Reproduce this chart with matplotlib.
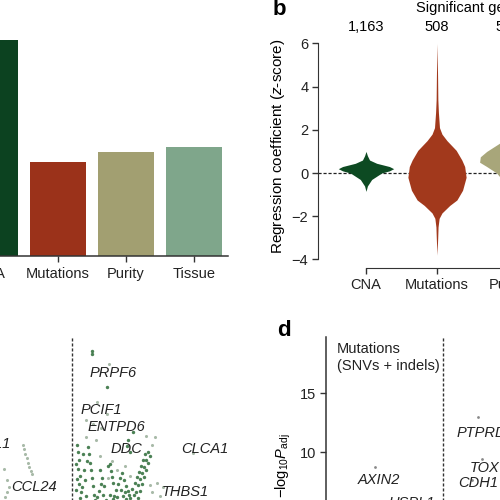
import numpy as np
import matplotlib
matplotlib.use('Agg')
import matplotlib.pyplot as plt

plt.rcParams['font.family'] = ['Liberation Sans', 'DejaVu Sans']
plt.rcParams['mathtext.fontset'] = 'custom'
plt.rcParams['mathtext.rm'] = 'Liberation Sans'
plt.rcParams['mathtext.it'] = 'Liberation Sans:italic'
plt.rcParams['font.size'] = 10.5
plt.rcParams['axes.edgecolor'] = '#333333'
plt.rcParams['xtick.color'] = '#333333'
plt.rcParams['ytick.color'] = '#333333'
plt.rcParams['xtick.labelcolor'] = '#222222'
plt.rcParams['ytick.labelcolor'] = '#222222'

# ---- panel a: bars
bar_labels = ['CNA', 'Mutations', 'Purity', 'Tissue']
bar_values = [0.405, 0.176, 0.195, 0.204]
bar_colors = ['#0c4220', '#9b321a', '#a29f71', '#7fa68b']

# ---- panel b: violins (profile = level, half width)
violin_labels = ['CNA', 'Mutations', 'Purity', 'Tissue']
violin_counts = ['1,163', '508', '536']
violin_colors = ['#0d4a22', '#a2391c', '#a8a67a']
cna_y = [-0.85, -0.6, -0.3, 0.0, 0.1, 0.2, 0.3, 0.45, 0.6, 0.8, 1.0]
cna_w = [0.0, 0.02, 0.08, 0.22, 0.33, 0.39, 0.33, 0.15, 0.05, 0.02, 0.0]
mut_y = [-3.8, -3.0, -2.5, -2.1, -1.85, -1.5, -1.25, -0.8, -0.2, 0.3, 0.6,
         1.05, 1.5, 1.8, 2.1, 2.8, 3.4, 4.5, 6.0]
mut_w = [0.0, 0.01, 0.015, 0.03, 0.07, 0.18, 0.28, 0.36, 0.41, 0.39, 0.35,
         0.27, 0.14, 0.07, 0.035, 0.02, 0.012, 0.008, 0.0]
pur_y = [-1.2, -0.6, -0.2, 0.0, 0.3, 0.5, 0.75, 1.0, 1.4, 2.0, 2.6]
pur_w = [0.0, 0.04, 0.11, 0.16, 0.3, 0.4, 0.39, 0.3, 0.11, 0.03, 0.0]

# ---- panel c: gene scatter (position, -log10 P)
c_dark_x = [142, 142, 157, 127, 128, 129, 128, 130, 129, 131, 130, 133, 134, 132,
            138, 139, 140, 141, 142, 143, 144, 145, 150, 152, 154, 153, 156,
            195, 193, 191, 189, 187, 185, 182, 179, 176,
            200, 198, 196, 194, 192, 190, 188,
            170, 168, 166, 164, 171, 173, 160, 163, 167, 175, 180, 184,
            178, 177, 180, 183,
            126, 127, 126, 135, 136, 137, 160, 161, 162, 163, 158,
            186, 188, 190, 192, 194, 196, 198, 172, 174, 176, 178, 147, 149, 151]
c_dark_y = [18.6, 18.3, 15.5, 10.6, 10.0, 9.3, 8.6, 8.0, 7.3, 6.6, 6.1, 9.8, 8.5, 7.0,
            10.4, 9.8, 9.1, 8.5, 7.8, 7.1, 6.4, 5.9, 8.5, 7.8, 7.1, 6.4, 5.9,
            9.8, 9.3, 8.8, 8.3, 7.9, 7.4, 6.9, 6.4, 6.0,
            9.7, 9.1, 8.5, 7.9, 7.3, 6.7, 6.1,
            7.8, 7.3, 6.8, 6.3, 6.8, 6.3, 6.4, 6.0, 6.2, 6.6, 6.1, 6.4,
            11.0, 10.5, 10.0, 11.7,
            9.0, 7.7, 6.8, 7.6, 6.3, 9.2, 9.0, 8.4, 7.9, 7.4, 8.8,
            6.6, 7.2, 7.7, 8.2, 8.7, 9.3, 10.0, 8.2, 7.6, 7.1, 6.7, 6.2, 6.7, 7.3]
c_light_x = [159, 147, 157, 136, 143, 151, 196, 205, 202, 162, 167, 175, 180, 200,
             207, 202, 210, 146, 136, 150, 158, 243, 213,
             73, 74, 75, 77, 78, 79, 81, 82, 54, 57, 59, 57, 55]
c_light_y = [17.5, 14.2, 13.2, 12.7, 12.4, 12.0, 11.4, 11.3, 10.6, 9.2, 8.5, 8.8, 8.0, 7.2,
             7.4, 6.6, 6.3, 11.0, 11.3, 9.7, 7.8, 9.9, 7.0,
             10.6, 10.3, 9.8, 9.5, 9.1, 8.7, 8.4, 8.1, 8.6, 7.6, 7.0, 6.6, 6.2]
c_genes = ['PRPF6', 'PCIF1', 'ENTPD6', 'DDC', 'CLCA1', 'THBS1', 'CCL24']
c_gene_x = [163, 151.5, 166.5, 176, 255, 235, 84.5]
c_gene_y = [16.7, 13.6, 12.1, 10.25, 10.25, 6.6, 7.0]
c_boundary = 122

# ---- panel d
d_pt_x = [49, 152, 156, 146]
d_pt_y = [8.73, 12.97, 9.4, 7.6]
d_genes = ['AXIN2', 'USPL1', 'PTPRD', 'TOX', 'CDH1']
d_gene_x = [53, 86, 131, 144, 132]
d_gene_y = [7.63, 5.7, 11.6, 8.64, 7.37]
d_boundary = 117

W = H = 500.0
fig = plt.figure(figsize=(5, 5), dpi=100)


def box(x0, y0, x1, y1):
    return [x0 / W, 1 - y1 / H, (x1 - x0) / W, (y1 - y0) / H]


# a
ax = fig.add_axes(box(-60, 16, 228, 256))
ax.bar(range(len(bar_values)), bar_values, width=0.82, color=bar_colors)
ax.set_xlim(-0.735, 3.5)
ax.set_ylim(0, 0.45)
ax.set_xticks(range(len(bar_labels)), bar_labels)
ax.set_yticks([])
for s in ['top', 'right', 'left']:
    ax.spines[s].set_visible(False)
ax.spines['bottom'].set_linewidth(1.1)
ax.tick_params(axis='x', length=4, width=1, pad=4)

# b
ax = fig.add_axes(box(318, 37, 621.6, 268))
ax.axhline(0, color='#222222', lw=0.9, ls=(0, (2.5, 1.5)), zorder=0)
profiles = [(cna_y, cna_w), (mut_y, mut_w), (pur_y, pur_w)]
for i, (yy, ww) in enumerate(profiles):
    yy = np.array(yy)
    ww = np.array(ww)
    ax.fill_betweenx(yy, i - ww, i + ww, color=violin_colors[i], lw=0, zorder=2)
for i, c in enumerate(violin_counts):
    ax.text(i, 6.76, c, ha='center', va='center', clip_on=False)
ax.text(1.5, 7.64, 'Significant genes', ha='center', va='center', clip_on=False)
ax.set_xlim(-0.676, 3.6)
ax.set_ylim(-4.4, 6.3)
ax.set_yticks([-4, -2, 0, 2, 4, 6])
ax.set_xticks(range(len(violin_labels)), violin_labels)
ax.spines['left'].set_bounds(-4, 6)
ax.spines['bottom'].set_bounds(0, 3)
for s in ['top', 'right']:
    ax.spines[s].set_visible(False)
ax.tick_params(length=4, width=1, pad=3)
fig.text(278 / W, 1 - 146 / H, 'Regression coefficient ($z$-score)',
         rotation=90, ha='center', va='center', fontsize=11)
fig.text(273 / W, 1 - 15 / H, 'b', fontsize=16, fontweight='bold', va='baseline')

# c
ax = fig.add_axes(box(-50, 337, 250, 560))
ax.plot([c_boundary, c_boundary], [0.85, 19.75], color='#333333', lw=1.0,
        ls=(0, (2.2, 1.4)))
ax.scatter(c_light_x, c_light_y, s=5, color='#9fb39f', lw=0, alpha=0.9)
ax.scatter(c_dark_x, c_dark_y, s=6, color='#2b6b37', lw=0, alpha=0.85)
for g, x, y in zip(c_genes, c_gene_x, c_gene_y):
    ax.text(x, y, g, style='italic', ha='center', va='center', color='#222222')
ax.text(60, 10.7, 'CXCL1', style='italic', ha='right', va='center', color='#222222')
ax.set_xlim(0, 300)
ax.set_ylim(0.85, 19.75)
ax.axis('off')

# d
ax = fig.add_axes(box(326, 337, 700, 560))
ax.plot([d_boundary, d_boundary], [0.85, 19.75], color='#333333', lw=1.0,
        ls=(0, (2.2, 1.4)))
ax.scatter(d_pt_x, d_pt_y, s=4, color='#888888', lw=0)
ax.text(11, 19.35, 'Mutations\n(SNVs + indels)', ha='left', va='top',
        color='#222222', linespacing=1.3)
for i, (g, x, y) in enumerate(zip(d_genes, d_gene_x, d_gene_y)):
    ax.text(x, y, g, style='italic', ha='center' if i < 2 else 'left',
            va='center', color='#222222')
ax.set_xlim(0, 374)
ax.set_ylim(0.85, 19.75)
ax.set_yticks([5, 10, 15])
ax.set_xticks([])
for s in ['top', 'right', 'bottom']:
    ax.spines[s].set_visible(False)
ax.spines['left'].set_linewidth(1.1)
ax.tick_params(axis='y', length=4, width=1, pad=3)
fig.text(283 / W, 1 - 433 / H, r'$-\mathrm{log}_{10}P_{\mathrm{adj}}$',
         rotation=90, ha='center', va='top')
fig.text(277 / W, 1 - 336 / H, 'd', fontsize=16, fontweight='bold', va='baseline')

fig.savefig('out.png', dpi=100)
